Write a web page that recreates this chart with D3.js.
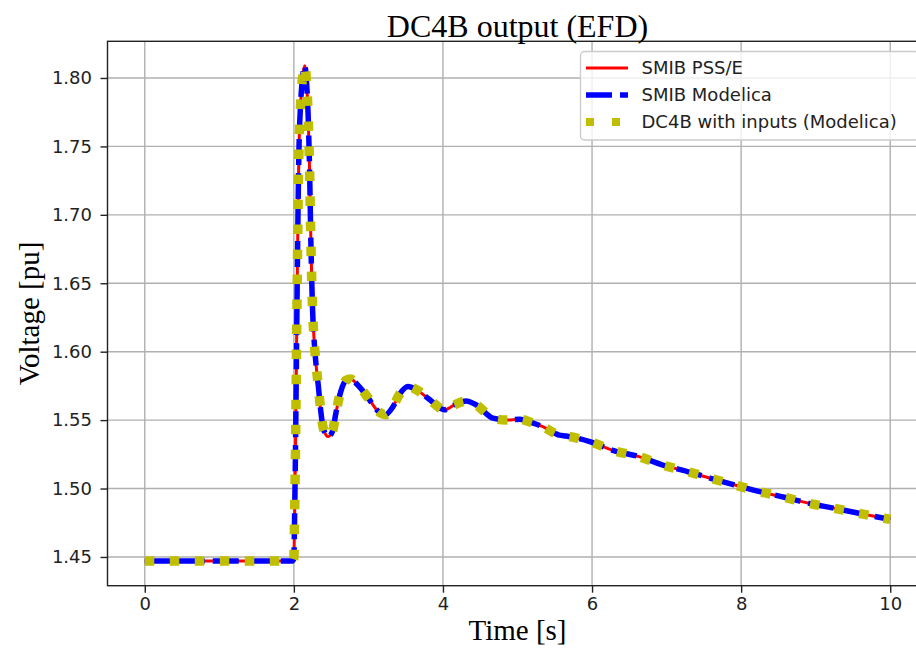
<!DOCTYPE html>
<html>
<head>
<meta charset="utf-8">
<script src="https://cdn.jsdelivr.net/npm/d3@7"></script>
<style>
  body { margin: 0; background: #fff; }
  svg { display: block; }
</style>
</head>
<body>
<div id="chart"></div>
<script>
// values
var time = [0, 0.5, 1.0, 1.5, 1.98, 2.0, 2.01, 2.02, 2.03, 2.04, 2.05, 2.06, 2.07, 2.085, 2.10, 2.12, 2.145,
  2.17, 2.19, 2.21, 2.23, 2.25, 2.27, 2.295, 2.33, 2.36, 2.40, 2.46, 2.52, 2.56, 2.63, 2.70, 2.76, 2.85,
  3.0, 3.12, 3.23, 3.32, 3.42, 3.53, 3.65, 3.82, 4.02, 4.15, 4.31, 4.45, 4.67, 4.85, 5.03, 5.2, 5.34,
  5.56, 5.65, 5.97, 6.29, 6.63, 6.94, 7.28, 7.59, 7.93, 8.25, 8.58, 8.91, 9.25, 9.58, 9.92, 10];
var efd = [1.447, 1.447, 1.447, 1.447, 1.447, 1.449, 1.48, 1.52, 1.57, 1.625, 1.675, 1.72, 1.752, 1.775, 1.79, 1.802, 1.809,
  1.797, 1.775, 1.735, 1.675, 1.632, 1.61, 1.592, 1.574, 1.557, 1.543, 1.538, 1.542, 1.554, 1.571, 1.579, 1.580, 1.576,
  1.566, 1.557, 1.554, 1.559, 1.569, 1.5745, 1.572, 1.565, 1.5575, 1.561, 1.564, 1.561, 1.5514, 1.550, 1.5506, 1.548, 1.5452,
  1.539, 1.5384, 1.5343, 1.5277, 1.5233, 1.5173, 1.5124, 1.5075, 1.5024, 1.4977, 1.4936, 1.4892, 1.4856, 1.4819, 1.4783, 1.4775];
// the three runs overlay each other in the picture
var seriesNames = ["SMIB PSS/E", "SMIB Modelica", "DC4B with inputs (Modelica)"];
var xTicks = [0, 2, 4, 6, 8, 10];
var yTicks = [1.45, 1.50, 1.55, 1.60, 1.65, 1.70, 1.75, 1.80];

var styles = [
  {color: "#ff0000", width: 3, dash: null},
  {color: "#0000ff", width: 5.5, dash: "26,8"},
  {color: "#bfbf00", width: 9.5, dash: "9.5,15.5"}
];

var W = 916, H = 651;
var axL = 107.5, axR = 927.5, axT = 41.3, axB = 585.7;

var svg = d3.select("#chart").append("svg")
  .attr("width", W).attr("height", H);

var x = d3.scaleLinear().domain([-0.5, 10.5]).range([axL, axR]);
var y = d3.scaleLinear().domain([1.429, 1.8268]).range([axB, axT]);

// grid
svg.append("g").selectAll("line").data(xTicks).enter().append("line")
  .attr("x1", d => x(d)).attr("x2", d => x(d))
  .attr("y1", axT).attr("y2", axB)
  .attr("stroke", "#b0b0b0").attr("stroke-width", 1.4);
svg.append("g").selectAll("line").data(yTicks).enter().append("line")
  .attr("x1", axL).attr("x2", axR)
  .attr("y1", d => y(d)).attr("y2", d => y(d))
  .attr("stroke", "#b0b0b0").attr("stroke-width", 1.4);

svg.append("clipPath").attr("id", "clip")
  .append("rect").attr("x", axL).attr("y", axT)
  .attr("width", axR - axL).attr("height", axB - axT);

var pts = time.map((t, i) => [t, efd[i]]);
var line = d3.line()
  .x(d => x(d[0])).y(d => y(d[1]))
  .curve(d3.curveMonotoneX);

var plot = svg.append("g").attr("clip-path", "url(#clip)");
styles.forEach(function(s) {
  plot.append("path")
    .datum(pts)
    .attr("d", line)
    .attr("fill", "none")
    .attr("stroke", s.color)
    .attr("stroke-width", s.width)
    .attr("stroke-dasharray", s.dash)
    .attr("stroke-linejoin", "round")
    .attr("stroke-linecap", "butt");
});

// axes
var xAxis = svg.append("g")
  .attr("transform", "translate(0," + axB + ")")
  .call(d3.axisBottom(x).tickValues(xTicks).tickSize(7).tickPadding(5).tickFormat(d3.format("d")));
var yAxis = svg.append("g")
  .attr("transform", "translate(" + axL + ",0)")
  .call(d3.axisLeft(y).tickValues(yTicks).tickSize(7).tickPadding(8.5).tickFormat(d3.format(".2f")));
[xAxis, yAxis].forEach(function(a) {
  a.select(".domain").remove();
  a.selectAll(".tick line").attr("stroke", "#222").attr("stroke-width", 1.4);
  a.selectAll(".tick text").attr("fill", "#222")
    .style("font-family", "DejaVu Sans").style("font-size", "18px");
});

// spines (right one falls outside the picture)
svg.append("rect")
  .attr("x", axL).attr("y", axT)
  .attr("width", axR - axL).attr("height", axB - axT)
  .attr("fill", "none").attr("stroke", "#222").attr("stroke-width", 1.4);

// title and labels
svg.append("text")
  .attr("x", (axL + axR) / 2).attr("y", 36.5)
  .attr("text-anchor", "middle")
  .style("font-family", "Liberation Serif").style("font-size", "32px")
  .text("DC4B output (EFD)");
svg.append("text")
  .attr("x", (axL + axR) / 2).attr("y", 640)
  .attr("text-anchor", "middle")
  .style("font-family", "Liberation Serif").style("font-size", "29px")
  .text("Time [s]");
svg.append("text")
  .attr("transform", "translate(38.5," + (axT + axB) / 2 + ") rotate(-90)")
  .attr("text-anchor", "middle")
  .style("font-family", "Liberation Serif").style("font-size", "29px")
  .text("Voltage [pu]");

// legend
var lg = svg.append("g");
lg.append("rect")
  .attr("x", 580.5).attr("y", 51.5)
  .attr("width", 338).attr("height", 88.5)
  .attr("rx", 4)
  .attr("fill", "#fff").attr("fill-opacity", 0.8)
  .attr("stroke", "#cccccc").attr("stroke-width", 1.4);
seriesNames.forEach(function(name, i) {
  var yy = 68 + i * 27;
  var s = styles[i];
  lg.append("line")
    .attr("x1", 586).attr("x2", 628)
    .attr("y1", yy).attr("y2", yy)
    .attr("stroke", s.color)
    .attr("stroke-width", i == 2 ? 8 : s.width)
    .attr("stroke-dasharray", i == 2 ? "8,18" : s.dash);
  lg.append("text")
    .attr("x", 641.5).attr("y", yy)
    .attr("dy", "0.36em")
    .attr("fill", "#222")
    .style("font-family", "DejaVu Sans").style("font-size", "18px")
    .text(name);
});
</script>
</body>
</html>
